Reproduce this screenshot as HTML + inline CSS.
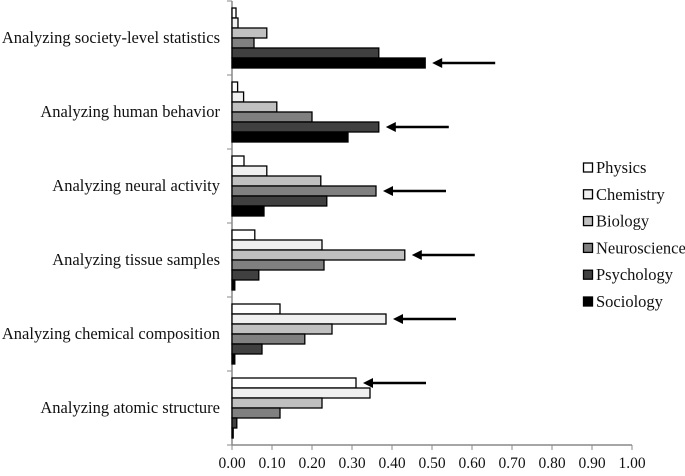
<!DOCTYPE html>
<html><head><meta charset="utf-8"><style>
body{margin:0;background:#fff}
svg text{font-family:"Liberation Serif",serif;fill:#111}
</style></head><body>
<svg id="c" width="685" height="471"></svg>
<script>
const categories=["Analyzing society-level statistics","Analyzing human behavior","Analyzing neural activity","Analyzing tissue samples","Analyzing chemical composition","Analyzing atomic structure"];
const seriesNames=["Physics","Chemistry","Biology","Neuroscience","Psychology","Sociology"];
const physics=[0.01,0.014,0.03,0.057,0.12,0.31];
const chemistry=[0.015,0.029,0.087,0.225,0.385,0.345];
const biology=[0.087,0.112,0.222,0.432,0.25,0.225];
const neuroscience=[0.055,0.2,0.36,0.23,0.182,0.12];
const psychology=[0.367,0.367,0.237,0.067,0.075,0.012];
const sociology=[0.483,0.29,0.08,0.007,0.007,0.003];
const arrowSeries=[5,4,3,2,1,0];
const ticks=["0.00","0.10","0.20","0.30","0.40","0.50","0.60","0.70","0.80","0.90","1.00"];
const series=[physics,chemistry,biology,neuroscience,psychology,sociology];
const fills=["#ffffff","#f0f0f0","#c0c0c0","#808080","#404040","#000000"];
const NS="http://www.w3.org/2000/svg";
const svg=document.getElementById('c');
const x0=232,pxPer=400,plotTop=1,gh=74,bh=10,off=7;
const xs=v=>x0+v*pxPer;
function mk(t,a,p){const e=document.createElementNS(NS,t);for(const k in a)e.setAttribute(k,a[k]);(p||svg).appendChild(e);return e;}
const ax=mk('line',{x1:x0,y1:plotTop,x2:x0,y2:plotTop+6*gh,stroke:'#888','stroke-width':1.5});


const bx=mk('line',{x1:x0,y1:plotTop+6*gh,x2:xs(1),y2:plotTop+6*gh,stroke:'#888','stroke-width':1.5});


ticks.forEach((t,i)=>{
 const x=xs(i/10);
 mk('line',{x1:x,y1:plotTop+6*gh,x2:x,y2:plotTop+6*gh+5,stroke:'#888'});
 const tx=mk('text',{x:x,y:468,'text-anchor':'middle','font-size':15.5});
 tx.textContent=t;
 
 
});
for(let g=0;g<=6;g++)mk('line',{x1:x0-5,y1:plotTop+g*gh,x2:x0,y2:plotTop+g*gh,stroke:'#888'});
categories.forEach((c,g)=>{
 const gy=plotTop+g*gh;
 const t=mk('text',{x:220,y:gy+gh/2+5,'text-anchor':'end','font-size':16.5});
 t.textContent=c;
 
 
 series.forEach((s,i)=>{
  const r=mk('rect',{x:x0,y:gy+off+i*bh,width:Math.max(0,xs(s[g])-x0),height:bh,fill:fills[i],stroke:'#000','stroke-width':1.3});
  
  
 });
 const si=arrowSeries[g];
 const ay=gy+off+si*bh+bh/2;
 const ah=xs(series[si][g])+7;
 const ar=mk('g',{});
 
 
 mk('line',{x1:ah+6,y1:ay,x2:ah+63,y2:ay,stroke:'#000','stroke-width':2.5},ar);
 mk('polygon',{points:`${ah},${ay} ${ah+10},${ay-5} ${ah+10},${ay+5}`,fill:'#000'},ar);
});
seriesNames.forEach((n,i)=>{
 const y=168+i*26.8;
 const g=mk('g',{});
 
 
 mk('rect',{x:583.5,y:y-5,width:9,height:9,fill:fills[i],stroke:'#000','stroke-width':1.3},g);
 const t=mk('text',{x:596,y:y+5,'font-size':16.5},g);
 t.textContent=n;
});
</script>
</body></html>
